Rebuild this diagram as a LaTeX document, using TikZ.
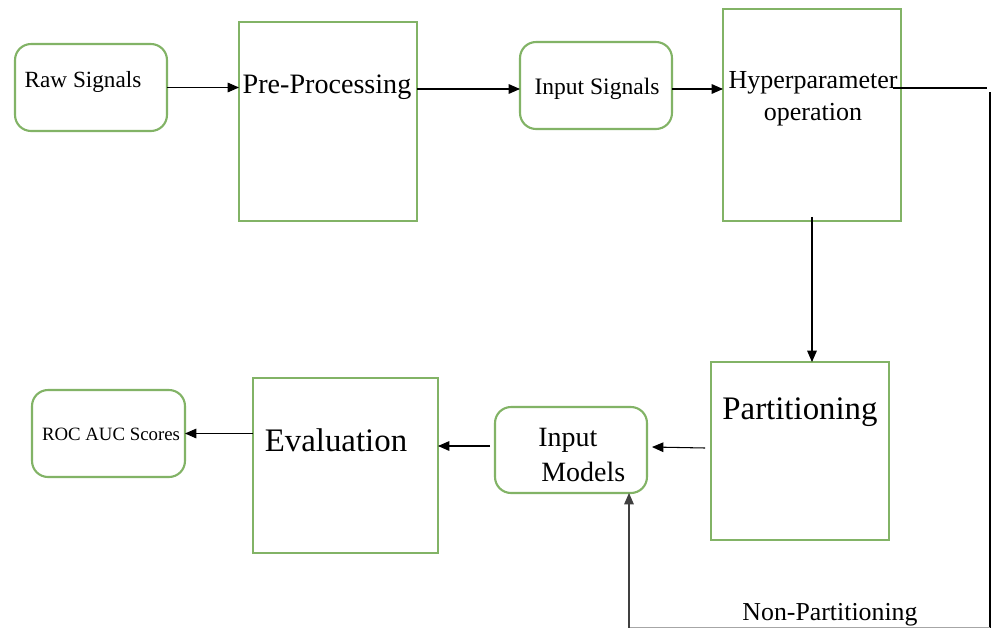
\documentclass[tikz,border=0pt]{standalone}
\usepackage{fontspec}
\setmainfont{Liberation Serif}
\usetikzlibrary{arrows.meta}
\definecolor{boxgreen}{HTML}{82B366}
\tikzset{
  stagebox/.style={draw=boxgreen, line width=1.2pt, fill=white, inner sep=0pt, outer sep=0pt},
  roundbox/.style={stagebox, rounded corners=0.32cm},
  flow/.style={draw=black, line width=0.6pt, -{Triangle[length=6.5pt,width=5.5pt]}},
  plainline/.style={draw=black, line width=0.6pt},
  lbl/.style={inner sep=0pt, text=black}
}
\begin{document}
\begin{tikzpicture}[x=0.02cm, y=-0.02cm]
\useasboundingbox (0,0) rectangle (992,629);

% boxes
\node[roundbox, minimum width=3.04cm, minimum height=1.74cm] (raw)  at (91,87.5) {};
\node[stagebox, minimum width=3.56cm, minimum height=3.98cm] (pre)  at (328,121.5) {};
\node[roundbox, minimum width=3.04cm, minimum height=1.74cm] (is)   at (596,85.5) {};
\node[stagebox, minimum width=3.56cm, minimum height=4.24cm] (hyp)  at (812,115) {};
\node[stagebox, minimum width=3.56cm, minimum height=3.56cm] (part) at (800,451) {};
\node[roundbox, minimum width=3.04cm, minimum height=1.72cm] (im)   at (571,450) {};
\node[stagebox, minimum width=3.70cm, minimum height=3.50cm] (eval) at (345.5,465.5) {};
\node[roundbox, minimum width=3.06cm, minimum height=1.74cm] (roc)  at (108.5,433.5) {};

% labels
\node[lbl, font=\fontsize{13.2pt}{16pt}\selectfont] (rawt)  at (83,82)   {Raw Signals};
\node[lbl, font=\fontsize{16pt}{19pt}\selectfont]   (pret)  at (327,87)  {Pre-Processing};
\node[lbl, font=\fontsize{13.4pt}{16pt}\selectfont] (ist)   at (597,89)  {Input Signals};
\node[lbl, align=center, font=\fontsize{14.8pt}{18.4pt}\selectfont] (hypt) at (813,99)
  {Hyperparameter\\operation};
\node[lbl, font=\fontsize{18.7pt}{22pt}\selectfont] (partt) at (800,412) {Partitioning};
\node[lbl, font=\fontsize{18.7pt}{22pt}\selectfont] (evalt) at (336,440) {Evaluation};
\node[lbl, align=left, anchor=west, font=\fontsize{15.9pt}{19.4pt}\selectfont] (imt) at (538,455)
  {Input\\\hspace{0.06cm}Models};
\node[lbl, font=\fontsize{10.7pt}{13pt}\selectfont] (roct)  at (111,434) {ROC AUC Scores};
\node[lbl, font=\fontsize{14.7pt}{18pt}\selectfont] (npt)   at (830,615) {Non-Partitioning};

% routing points of the non-partitioning path
\coordinate (hypout) at (893,88);
\coordinate (c0) at (987,88);
\coordinate (c1) at (990,92);
\coordinate (c2) at (990,627.5);
\coordinate (c3) at (629,627.5);

% connectors
\draw[flow] (raw.east) -- (raw.east -| pre.west);
\draw[flow] ([yshift=-0.07cm]is.west -| pre.east) -- ([yshift=-0.07cm]is.west);
\draw[flow] ([yshift=-0.07cm]is.east) -- ([yshift=-0.07cm]is.east -| hyp.west);
\draw[flow] ([yshift=0.08cm]hyp.south) -- (hyp.south |- part.north);
\draw[flow] ([xshift=-0.12cm,yshift=0.06cm]part.west) -- ([xshift=0.1cm,yshift=0.06cm]im.east);
\draw[flow] ([xshift=-0.1cm,yshift=0.08cm]im.west) -- ([yshift=0.08cm]im.west -| eval.east);
\draw[flow] (roc.east -| eval.west) -- (roc.east);
\draw[plainline] (hypout) -- (c0);
\draw[plainline] (c1) -- (c2);
\draw[plainline, draw=black!35] (c2) -- (c3);
\draw[flow, draw=black!75] (c3) -- (c3 |- im.south);
\end{tikzpicture}
\end{document}
